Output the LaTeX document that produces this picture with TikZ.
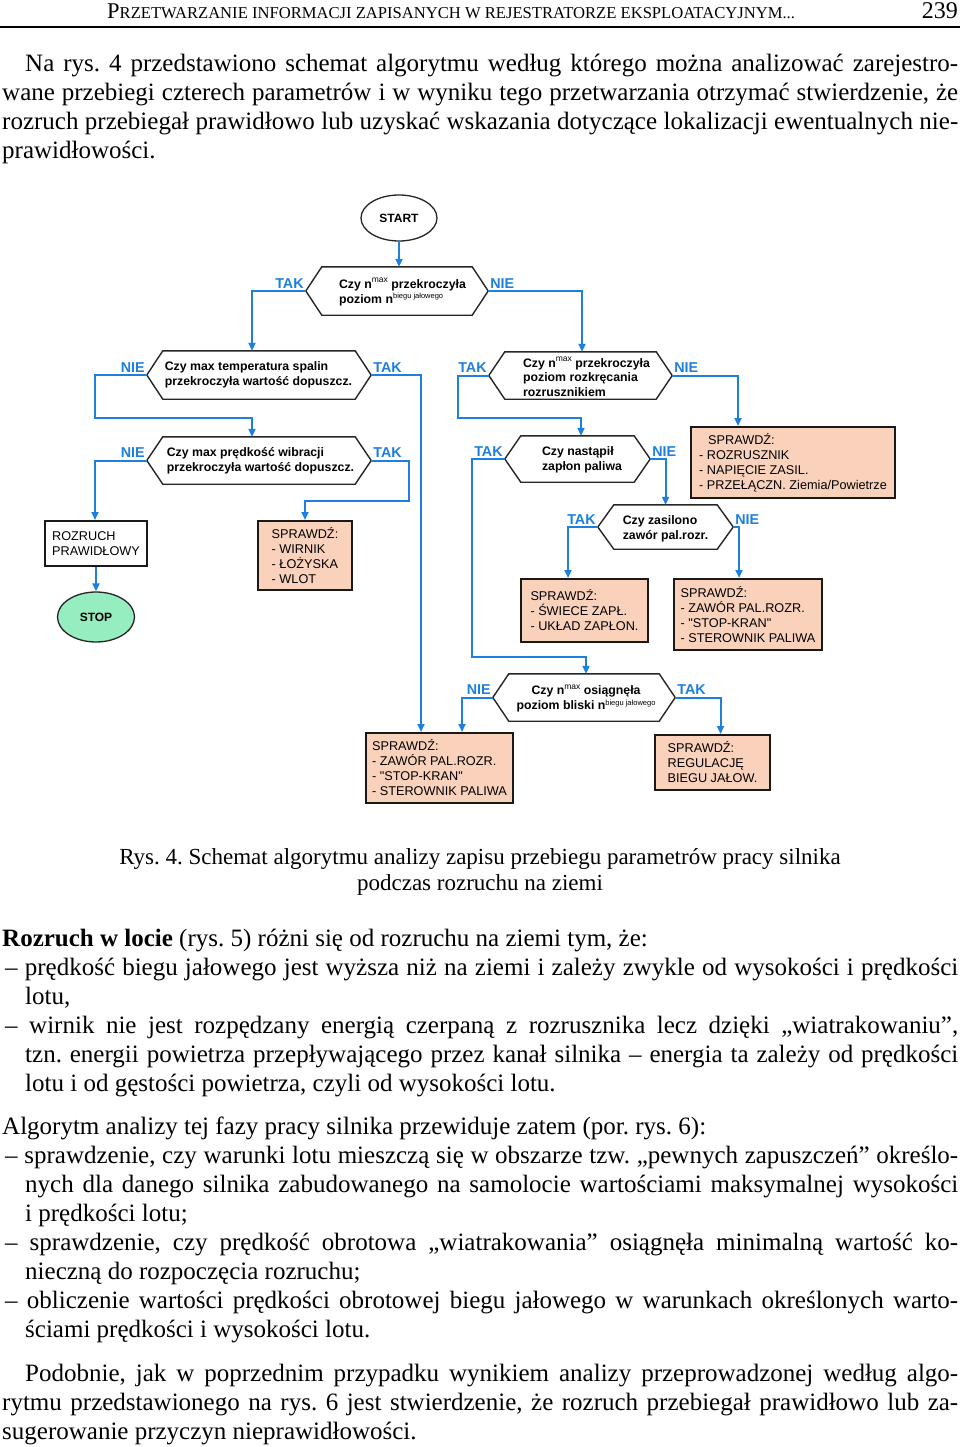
\documentclass[tikz,border=0pt]{standalone}
\usepackage{fontspec}
\setmainfont{Liberation Serif}
\newfontfamily\arialf{Liberation Sans}
\usetikzlibrary{arrows.meta,shapes.geometric}
\definecolor{fblue}{RGB}{30,128,222}
\definecolor{salmon}{RGB}{250,210,188}
\definecolor{mint}{RGB}{150,238,192}
\frenchspacing
\newcommand\jline[2]{\hbox to #1{\spaceskip=.25em plus 1fil minus .2em\relax #2}}
\newcommand\supmax{\raisebox{5.5pt}{\mdseries\fontsize{8.5}{8.5}\selectfont max}}
\newcommand\supbj{\raisebox{4.5pt}{\mdseries\fontsize{7.5}{7.5}\selectfont biegu jałowego}}
\newcommand\myhex[5]{%
  \node[hexbase, minimum width=#4pt, minimum height=#5pt] (#1) at (#2,#3) {};
  \draw[hexline] (#1.west) -- ([xshift=16pt]#1.north west) -- ([xshift=-16pt]#1.north east) -- (#1.east) -- ([xshift=-16pt]#1.south east) -- ([xshift=16pt]#1.south west) -- cycle;}
\tikzset{
  body/.style={font=\fontsize{25}{29}\selectfont, anchor=base west, inner sep=0pt},
  captxt/.style={font=\fontsize{23}{27}\selectfont, anchor=base, inner sep=0pt},
  hexbase/.style={rectangle, inner sep=0pt, draw=none},
  hexline/.style={draw=black!85, line width=1.4pt, line join=miter},
  dec/.style={font=\arialf\bfseries\fontsize{12.3}{14.8}\selectfont, inner sep=0pt, align=left},
  term/.style={ellipse, draw=black!85, line width=1.3pt, inner sep=0pt, fill=white, font=\arialf\bfseries\fontsize{12}{14}\selectfont},
  plainbox/.style={rectangle, draw=black!90, line width=2pt, fill=white, inner sep=0pt, align=left, font=\arialf\fontsize{12.7}{15}\selectfont},
  chk/.style={plainbox, fill=salmon},
  conn/.style={draw=fblue, line width=2pt, -{Triangle[length=8pt,width=7pt]}},
  lab/.style={text=fblue, font=\arialf\bfseries\fontsize{14.3}{15}\selectfont, inner sep=0pt},
}
\begin{document}
\begin{tikzpicture}[x=1pt,y=-1pt]
\fill[white] (0,0) rectangle (960,1447);
\useasboundingbox (0,0) rectangle (960,1447);

% header
\node[anchor=base west, inner sep=0pt] (hd) at (107,19) {\fontsize{22.5}{22}\selectfont P\fontsize{16.6}{16}\selectfont RZETWARZANIE INFORMACJI ZAPISANYCH W REJESTRATORZE EKSPLOATACYJNYM...};
\node[anchor=base east, inner sep=0pt, font=\fontsize{24}{24}\selectfont] (pg) at (958,19) {239};
\draw[line width=1.3pt] (0,27) -- (960,27);

% first paragraph
\node[body] (p1) at (25,72) {\jline{933pt}{Na rys. 4 przedstawiono schemat algorytmu według którego można analizować zarejestro-}};
\node[body] (p2) at (2,101) {\jline{956pt}{wane przebiegi czterech parametrów i w wyniku tego przetwarzania otrzymać stwierdzenie, że}};
\node[body] (p3) at (2,130) {\jline{956pt}{rozruch przebiegał prawidłowo lub uzyskać wskazania dotyczące lokalizacji ewentualnych nie-}};
\node[body] (p4) at (2,159) {prawidłowości.};

% flowchart
\node[term, minimum width=76pt, minimum height=46pt] (start) at (399,218) {START};

\myhex{d1}{397}{291}{182}{48}
\node[dec] (d1t) at (402.5,292) {Czy n\supmax\ przekroczyła\\poziom n\supbj};
\myhex{d2}{259}{375}{224}{48}
\node[dec] (d2t) at (258.5,374.5) {Czy max temperatura spalin\\przekroczyła wartość dopuszcz.};
\myhex{d3}{580.5}{375.5}{183}{47}
\node[dec] (d3t) at (586.5,377) {Czy n\supmax\ przekroczyła\\poziom rozkręcania\\rozrusznikiem};
\myhex{d4}{259}{460.5}{224}{47}
\node[dec] (d4t) at (260.5,460.5) {Czy max prędkość wibracji\\przekroczyła wartość dopuszcz.};
\myhex{d5}{577.5}{459}{145}{46}
\node[dec] (d5t) at (582,459.5) {Czy nastąpił\\zapłon paliwa};
\myhex{d6}{665.5}{527}{135}{44}
\node[dec] (d6t) at (665.5,529) {Czy zasilono\\zawór pal.rozr.};
\myhex{d7}{584}{697.5}{182}{47}
\node[dec, align=center] (d7t) at (586,698.5) {Czy n\supmax\ osiągnęła\\poziom bliski n\supbj};

\node[plainbox, minimum width=102pt, minimum height=45pt] (bR) at (96,543.5) {ROZRUCH\\PRAWIDŁOWY};
\node[term, fill=mint, minimum width=77pt, minimum height=50pt] (stop) at (96,617) {STOP};
\node[chk, minimum width=94pt, minimum height=69pt] (bW) at (305,555.5) {SPRAWDŹ:\\- WIRNIK\\- ŁOŻYSKA\\- WLOT};
\node[chk, minimum width=204pt, minimum height=71pt] (bRz) at (793,462.5) {\hspace*{9pt}SPRAWDŹ:\\- ROZRUSZNIK\\- NAPIĘCIE ZASIL.\\- PRZEŁĄCZN. Ziemia/Powietrze};
\node[chk, minimum width=127pt, minimum height=63pt] (bS) at (584.5,610.5) {SPRAWDŹ:\\- ŚWIECE ZAPŁ.\\- UKŁAD ZAPŁON.};
\node[chk, minimum width=148pt, minimum height=71pt] (bZ1) at (748,614.5) {SPRAWDŹ:\\- ZAWÓR PAL.ROZR.\\- "STOP-KRAN"\\- STEROWNIK PALIWA};
\node[chk, minimum width=147pt, minimum height=70pt] (bZ2) at (439.5,768) {SPRAWDŹ:\\- ZAWÓR PAL.ROZR.\\- "STOP-KRAN"\\- STEROWNIK PALIWA};
\node[chk, minimum width=115pt, minimum height=55pt] (bReg) at (712.5,762.5) {SPRAWDŹ:\\REGULACJĘ\\BIEGU JAŁOW.};

% connectors
\draw[conn] (start.south) -- (start.south |- d1.north);
\draw[conn] (d1.west) -| ([xshift=-7pt]d2.north);
\draw[conn] (d1.east) -| ([xshift=1.5pt]d3.north);
\draw[conn] (d2.west) -| ++(-52,43) -| ([xshift=-7pt]d4.north);
\draw[conn] (d2.east) -| ([xshift=-18.5pt]bZ2.north);
\draw[conn] (d4.west) -| ([xshift=-1pt]bR.north);
\draw[conn] (d4.east) -| ++(38,40) -| (bW.north);
\draw[conn] (bR.south) -- (stop.north);
\draw[conn] (d3.west) -| ++(-31,42.5) -| ([xshift=3.5pt]d5.north);
\draw[conn] (d3.east) -| ([xshift=-55pt]bRz.north);
\draw[conn] (d5.west) -| ++(-33,198) -| ([xshift=2pt]d7.north);
\draw[conn] (d5.east) -| (d6.north);
\draw[conn] (d6.west) -| ([xshift=-16.5pt]bS.north);
\draw[conn] (d6.east) -| ([xshift=-9pt]bZ1.north);
\draw[conn] (d7.west) -| ([xshift=22.5pt]bZ2.north);
\draw[conn] (d7.east) -| ([xshift=8pt]bReg.north);

% labels
\node[lab, anchor=south east] (l1a) at ([xshift=-2pt,yshift=2.5pt]d1.west) {TAK};
\node[lab, anchor=south west] (l1b) at ([xshift=2pt,yshift=2.5pt]d1.east) {NIE};
\node[lab, anchor=south east] (l2a) at ([xshift=-2pt,yshift=2.5pt]d2.west) {NIE};
\node[lab, anchor=south west] (l2b) at ([xshift=2pt,yshift=2.5pt]d2.east) {TAK};
\node[lab, anchor=south east] (l3a) at ([xshift=-2pt,yshift=2.5pt]d3.west) {TAK};
\node[lab, anchor=south west] (l3b) at ([xshift=2pt,yshift=2.5pt]d3.east) {NIE};
\node[lab, anchor=south east] (l4a) at ([xshift=-2pt,yshift=2.5pt]d4.west) {NIE};
\node[lab, anchor=south west] (l4b) at ([xshift=2pt,yshift=2.5pt]d4.east) {TAK};
\node[lab, anchor=south east] (l5a) at ([xshift=-2pt,yshift=2.5pt]d5.west) {TAK};
\node[lab, anchor=south west] (l5b) at ([xshift=2pt,yshift=2.5pt]d5.east) {NIE};
\node[lab, anchor=south east] (l6a) at ([xshift=-2pt,yshift=2.5pt]d6.west) {TAK};
\node[lab, anchor=south west] (l6b) at ([xshift=2pt,yshift=2.5pt]d6.east) {NIE};
\node[lab, anchor=south east] (l7a) at ([xshift=-2pt,yshift=2.5pt]d7.west) {NIE};
\node[lab, anchor=south west] (l7b) at ([xshift=2pt,yshift=2.5pt]d7.east) {TAK};

% caption
\node[captxt] (c1) at (480,864) {Rys. 4. Schemat algorytmu analizy zapisu przebiegu parametrów pracy silnika};
\node[captxt] (c2) at (480,890) {podczas rozruchu na ziemi};

% following text
\node[body] (q1) at (2,946) {\textbf{Rozruch w locie} (rys. 5) różni się od rozruchu na ziemi tym, że:};
\node[body] (q2) at (5,975) {\jline{953pt}{– prędkość biegu jałowego jest wyższa niż na ziemi i zależy zwykle od wysokości i prędkości}};
\node[body] (q3) at (25,1004) {lotu,};
\node[body] (q4) at (5,1033) {\jline{953pt}{– wirnik nie jest rozpędzany energią czerpaną z rozrusznika lecz dzięki „wiatrakowaniu”,}};
\node[body] (q5) at (25,1062) {\jline{933pt}{tzn. energii powietrza przepływającego przez kanał silnika – energia ta zależy od prędkości}};
\node[body] (q6) at (25,1091) {lotu i od gęstości powietrza, czyli od wysokości lotu.};
\node[body] (q7) at (2,1134) {Algorytm analizy tej fazy pracy silnika przewiduje zatem (por. rys. 6):};
\node[body] (q8) at (5,1163) {\jline{953pt}{– sprawdzenie, czy warunki lotu mieszczą się w obszarze tzw. „pewnych zapuszczeń” określo-}};
\node[body] (q9) at (25,1192) {\jline{933pt}{nych dla danego silnika zabudowanego na samolocie wartościami maksymalnej wysokości}};
\node[body] (q10) at (25,1221) {i prędkości lotu;};
\node[body] (q11) at (5,1250) {\jline{953pt}{– sprawdzenie, czy prędkość obrotowa „wiatrakowania” osiągnęła minimalną wartość ko-}};
\node[body] (q12) at (25,1279) {nieczną do rozpoczęcia rozruchu;};
\node[body] (q13) at (5,1308) {\jline{953pt}{– obliczenie wartości prędkości obrotowej biegu jałowego w warunkach określonych warto-}};
\node[body] (q14) at (25,1337) {ściami prędkości i wysokości lotu.};
\node[body] (q15) at (25,1381) {\jline{933pt}{Podobnie, jak w poprzednim przypadku wynikiem analizy przeprowadzonej według algo-}};
\node[body] (q16) at (2,1410) {\jline{956pt}{rytmu przedstawionego na rys. 6 jest stwierdzenie, że rozruch przebiegał prawidłowo lub za-}};
\node[body] (q17) at (2,1439) {sugerowanie przyczyn nieprawidłowości.};
\end{tikzpicture}
\end{document}
